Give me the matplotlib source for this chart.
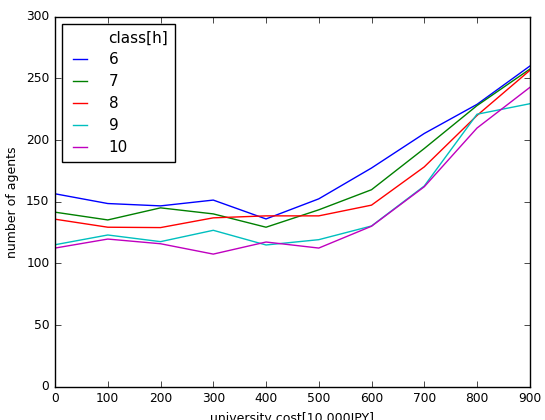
import matplotlib
matplotlib.use("Agg")
import matplotlib.pyplot as plt

cost = [0, 100, 200, 300, 400, 500, 600, 700, 800, 900]
classes = ["6", "7", "8", "9", "10"]
agents_6 = [156.5, 148.6, 146.7, 151.4, 136.1, 152.4, 177.4, 205.4, 229, 260]
agents_7 = [141.6, 135.3, 145.1, 140.2, 129.4, 143.5, 159.8, 193.2, 228, 257.5]
agents_8 = [135.9, 129.4, 129.1, 137.0, 138.6, 138.6, 147.3, 178.3, 220, 256.5]
agents_9 = [115.2, 123.1, 117.7, 126.9, 115.0, 119.3, 130.4, 162.8, 221, 229.5]
agents_10 = [112.5, 119.8, 116.0, 107.6, 117.4, 112.5, 130.2, 162.2, 209.8, 242.7]
series = [agents_6, agents_7, agents_8, agents_9, agents_10]
colors = ["b", "g", "r", "c", "m"]

plt.style.use("classic")
fig = plt.figure(figsize=(5.45, 4.2), dpi=100, facecolor="white")
ax = fig.add_axes([0.101, 0.079, 0.871, 0.881])

# blank entry used as the legend heading
ax.plot([], [], color="none", label="class[h]")
for label, values, c in zip(classes, series, colors):
    ax.plot(cost, values, color=c, label=label, linewidth=1.0)

ax.set_xlim(0, 900)
ax.set_ylim(0, 300)
ax.tick_params(labelsize=8.8)
ax.set_xlabel("university cost[10,000JPY]", fontsize=9)
ax.set_ylabel("number of agents", fontsize=9)

ax.legend(loc="upper left", fontsize=11, handlelength=1.5, handletextpad=1.1,
          borderpad=0.45, borderaxespad=0.45, labelspacing=0.45)

fig.savefig("out.png", dpi=100, facecolor="white")
